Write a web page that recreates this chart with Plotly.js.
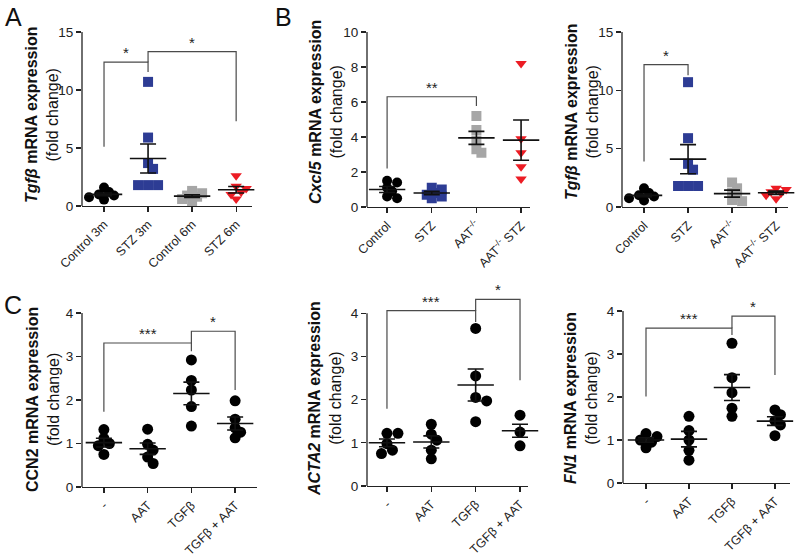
<!DOCTYPE html>
<html><head><meta charset="utf-8">
<script src="https://cdn.plot.ly/plotly-3.0.1.min.js"></script>
<style>html,body{margin:0;padding:0;background:#fff}#chart{width:800px;height:559px}</style>
</head><body><div id="chart"></div>
<script>
// ---------------- DATA ----------------
// Panel A: Tgfb, STZ time course
const catsA = ['Control 3m', 'STZ 3m', 'Control 6m', 'STZ 6m'];
const a_ctrl3m = [0.55, 0.75, 0.9, 1.0, 1.2, 1.6];
const a_stz3m = [10.7, 5.9, 3.7, 3.2, 1.8, 1.8, 1.8];
const a_ctrl6m = [0.4, 0.6, 0.8, 0.9, 1.1, 1.3];
const a_stz6m = [2.6, 1.7, 1.5, 1.2, 1.0, 0.6];
const meanA = [1.0, 4.1, 0.85, 1.4];
const semA = [0.12, 1.25, 0.12, 0.28];

// Panel B (middle): Cxcl5
const catsB = ['Control', 'STZ', 'AAT<sup>-/-</sup>', 'AAT<sup>-/-</sup> STZ'];
const b_ctrl = [1.5, 1.4, 1.1, 0.9, 0.6, 0.5];
const b_stz = [1.1, 1.0, 0.8, 0.7, 0.6, 0.5];
const b_aat = [5.2, 4.4, 3.8, 3.3, 3.1];
const b_aatstz = [8.2, 3.9, 3.1, 2.3, 1.6];
const meanB = [1.0, 0.8, 3.95, 3.82];
const semB = [0.17, 0.1, 0.37, 1.15];

// Panel B (right): Tgfb
const br_ctrl = [0.55, 0.75, 0.9, 1.0, 1.2, 1.6];
const br_stz = [10.7, 5.9, 3.7, 3.2, 1.8, 1.8, 1.8];
const br_aat = [2.1, 1.6, 1.2, 0.9, 0.6, 0.5];
const br_aatstz = [1.6, 1.5, 1.3, 1.2, 1.0, 0.7];
const meanBR = [1.0, 4.1, 1.15, 1.22];
const semBR = [0.12, 1.25, 0.3, 0.14];

// Panel C: in vitro
const catsC = ['-', 'AAT', 'TGFβ', 'TGFβ + AAT'];
const cl_ctrl = [1.32, 1.12, 1.0, 0.95, 0.75];
const cl_aat = [1.33, 0.98, 0.85, 0.69, 0.54];
const cl_tgf = [2.92, 2.45, 2.23, 1.85, 1.4];
const cl_tgfaat = [1.98, 1.56, 1.36, 1.26, 1.13];
const meanCL = [1.02, 0.88, 2.15, 1.46];
const semCL = [0.1, 0.13, 0.26, 0.15];

const cm_ctrl = [1.22, 1.22, 0.98, 0.83, 0.75];
const cm_aat = [1.43, 1.2, 1.06, 0.83, 0.63];
const cm_tgf = [3.65, 2.55, 2.05, 1.97, 1.49];
const cm_tgfaat = [1.64, 1.56, 1.25, 0.93, 0.93];
const meanCM = [1.0, 1.02, 2.34, 1.28];
const semCM = [0.09, 0.14, 0.37, 0.15];

const cr_ctrl = [1.15, 1.08, 1.0, 0.95, 0.82];
const cr_aat = [1.55, 1.22, 1.0, 0.76, 0.53];
const cr_tgf = [3.25, 2.45, 2.1, 1.74, 1.55];
const cr_tgfaat = [1.7, 1.59, 1.45, 1.35, 1.1];
const meanCR = [1.0, 1.02, 2.22, 1.44];
const semCR = [0.05, 0.18, 0.3, 0.1];

// significance brackets: [fromCat, toCat, top, leftBottom, rightBottom, label]
const bracketsA = [[0, 1, 12.4, 5.1, 11.55, '*'], [1, 3, 13.3, 12.4, 7.3, '*']];
const bracketsB = [[0, 2, 6.3, 2.2, 5.77, '**']];
const bracketsBR = [[0, 1, 12.2, 3.9, 11.3, '*']];
const bracketsCL = [[0, 2, 3.31, 1.73, 3.12, '***'], [2, 3, 3.58, 3.31, 2.23, '*']];
const bracketsCM = [[0, 2, 4.06, 1.79, 3.8, '***'], [2, 3, 4.32, 4.06, 2.45, '*']];
const bracketsCR = [[0, 2, 3.6, 2.01, 3.44, '***'], [2, 3, 3.88, 3.6, 2.51, '*']];

// ---------------- STYLE ----------------
const FONT = 'Arial, "Liberation Sans", Helvetica, sans-serif';
const BLACK = '#000000', BLUE = '#2D3C94', GRAY = '#A6A6A6', RED = '#EC1C24';
const W = 800, H = 559;

const panels = [
  {xd: [82, 252], xr: [-0.5, 3.36], yd: [32, 206], yr: [0, 15], top: 15, ticks: [0, 5, 10, 15],
   cats: catsA, groups: [a_ctrl3m, a_stz3m, a_ctrl6m, a_stz6m], mean: meanA, sem: semA,
   symbols: ['circle', 'square', 'square', 'triangle-down'], colors: [BLACK, BLUE, GRAY, RED], ms: 10,
   br: bracketsA, title: '<b><i>Tgfβ</i> mRNA expression</b><br>(fold change)', tx: 42, ty: 115},
  {xd: [367, 530], xr: [-0.45, 3.2], yd: [32, 207], yr: [0, 10], top: 10, ticks: [0, 2, 4, 6, 8, 10],
   cats: catsB, groups: [b_ctrl, b_stz, b_aat, b_aatstz], mean: meanB, sem: semB,
   symbols: ['circle', 'square', 'square', 'triangle-down'], colors: [BLACK, BLUE, GRAY, RED], ms: 10,
   br: bracketsB, title: '<b><i>Cxcl5</i> mRNA expression</b><br>(fold change)', tx: 326, ty: 112},
  {xd: [622, 788], xr: [-0.5, 3.27], yd: [32, 207], yr: [0, 15], top: 15, ticks: [0, 5, 10, 15],
   cats: catsB, groups: [br_ctrl, br_stz, br_aat, br_aatstz], mean: meanBR, sem: semBR,
   symbols: ['circle', 'square', 'square', 'triangle-down'], colors: [BLACK, BLUE, GRAY, RED], ms: 10,
   br: bracketsBR, title: '<b><i>Tgfβ</i> mRNA expression</b><br>(fold change)', tx: 582, ty: 112},
  {xd: [82, 257], xr: [-0.5, 3.5], yd: [313, 487], yr: [0, 4], top: 4, ticks: [0, 1, 2, 3, 4],
   cats: catsC, groups: [cl_ctrl, cl_aat, cl_tgf, cl_tgfaat], mean: meanCL, sem: semCL,
   symbols: ['circle', 'circle', 'circle', 'circle'], colors: [BLACK, BLACK, BLACK, BLACK], ms: 11,
   br: bracketsCL, title: '<b>CCN2 mRNA expression</b><br>(fold change)', tx: 43, ty: 400},
  {xd: [367, 528], xr: [-0.45, 3.18], yd: [296, 486], yr: [0, 4.4], top: 4, ticks: [0, 1, 2, 3, 4],
   cats: catsC, groups: [cm_ctrl, cm_aat, cm_tgf, cm_tgfaat], mean: meanCM, sem: semCM,
   symbols: ['circle', 'circle', 'circle', 'circle'], colors: [BLACK, BLACK, BLACK, BLACK], ms: 11,
   br: bracketsCM, title: '<b><i>ACTA2</i> mRNA expression</b><br>(fold change)', tx: 325, ty: 399},
  {xd: [623, 790], xr: [-0.535, 3.35], yd: [311, 483], yr: [0, 4], top: 4, ticks: [0, 1, 2, 3, 4],
   cats: catsC, groups: [cr_ctrl, cr_aat, cr_tgf, cr_tgfaat], mean: meanCR, sem: semCR,
   symbols: ['circle', 'circle', 'circle', 'circle'], colors: [BLACK, BLACK, BLACK, BLACK], ms: 11,
   br: bracketsCR, title: '<b><i>FN1</i> mRNA expression</b><br>(fold change)', tx: 581, ty: 398}
];

// compact beeswarm: horizontal offsets (category units), markers may overlap partly
function swarm(values, ppu, dpx, pxPerCat) {
  const order = values.map((v, i) => i).sort((a, b) => values[b] - values[a]);
  const placed = [];
  const off = new Array(values.length).fill(0);
  const step = dpx * 0.5, minD = dpx * 0.6;
  for (const i of order) {
    const py = values[i] * ppu;
    let chosen = 0;
    for (let k = 0; k < 30; k++) {
      const cands = k === 0 ? [0] : [k * step, -k * step];
      let ok = null;
      for (const c of cands) {
        if (placed.every(p => Math.hypot(p[0] - c, p[1] - py) >= minD)) { ok = c; break; }
      }
      if (ok !== null) { chosen = ok; break; }
    }
    placed.push([chosen, py]);
    off[i] = chosen / pxPerCat;
  }
  return off;
}

const data = [];
const layout = {
  width: W, height: H, margin: {l: 0, r: 0, t: 0, b: 0},
  paper_bgcolor: '#fff', plot_bgcolor: 'rgba(0,0,0,0)',
  showlegend: false, font: {family: FONT, color: '#222'},
  shapes: [], annotations: []
};

panels.forEach((p, k) => {
  const n = k === 0 ? '' : String(k + 1);
  const xa = 'x' + n, ya = 'y' + n;
  const ppu = (p.yd[1] - p.yd[0]) / (p.yr[1] - p.yr[0]);
  const pxPerCat = (p.xd[1] - p.xd[0]) / (p.xr[1] - p.xr[0]);
  p.groups.forEach((vals, g) => {
    const off = swarm(vals, ppu, p.ms, pxPerCat);
    data.push({
      type: 'scatter', mode: 'markers', xaxis: xa, yaxis: ya, cliponaxis: false,
      x: vals.map((v, i) => g + off[i]), y: vals,
      marker: {symbol: p.symbols[g], size: p.ms, color: p.colors[g], line: {width: 0}},
      hoverinfo: 'y'
    });
  });
  data.push({
    type: 'scatter', mode: 'markers', xaxis: xa, yaxis: ya, cliponaxis: false,
    x: p.mean.map((m, i) => i), y: p.mean,
    marker: {symbol: 'line-ew-open', size: 26, color: '#111', line: {width: 1.6, color: '#111'}},
    error_y: {type: 'data', array: p.sem, visible: true, width: 8, thickness: 1.6, color: '#111'}
  });
  layout['xaxis' + n] = {
    domain: [p.xd[0] / W, p.xd[1] / W], range: p.xr, anchor: ya,
    tickvals: p.cats.map((c, i) => i), ticktext: p.cats, tickangle: -45,
    tickfont: {family: FONT, size: 12.5, color: '#222'},
    showline: true, linecolor: '#222', linewidth: 1.3, ticks: 'outside', ticklen: 5,
    tickwidth: 1.3, tickcolor: '#222', showgrid: false, zeroline: false, fixedrange: true
  };
  layout['yaxis' + n] = {
    domain: [1 - p.yd[1] / H, 1 - p.yd[0] / H], range: p.yr, anchor: xa,
    tickvals: p.ticks, ticktext: p.ticks.map(String),
    tickfont: {family: FONT, size: 13.5, color: '#222'},
    showline: false, ticks: 'outside', ticklen: 5, tickwidth: 1.3, tickcolor: '#222',
    showgrid: false, zeroline: false, fixedrange: true
  };
  // y axis line up to the top tick
  layout.shapes.push({type: 'line', xref: 'paper', yref: ya, x0: p.xd[0] / W, x1: p.xd[0] / W,
    y0: 0, y1: p.top, line: {color: '#222', width: 1.3}});
  // significance brackets
  p.br.forEach(b => {
    layout.shapes.push({type: 'path', xref: xa, yref: ya,
      path: `M ${b[0]},${b[3]} L ${b[0]},${b[2]} L ${b[1]},${b[2]} L ${b[1]},${b[4]}`,
      line: {color: '#4a4a4a', width: 1.2}});
    layout.annotations.push({xref: xa, yref: ya, x: (b[0] + b[1]) / 2, y: b[2],
      xanchor: 'center', yanchor: 'bottom', showarrow: false, text: b[5], yshift: -1,
      font: {family: FONT, size: 15, color: '#222'}});
  });
  layout.annotations.push({xref: 'paper', yref: 'paper', x: p.tx / W, y: 1 - p.ty / H,
    xanchor: 'center', yanchor: 'middle', textangle: -90, showarrow: false, text: p.title,
    font: {family: FONT, size: 16, color: '#111'}});
});

// panel letters
[['A', 13, 17], ['B', 283, 17], ['C', 13, 305]].forEach(l => {
  layout.annotations.push({xref: 'paper', yref: 'paper', x: l[1] / W, y: 1 - l[2] / H,
    xanchor: 'center', yanchor: 'middle', showarrow: false, text: l[0],
    font: {family: FONT, size: 25, color: '#111'}});
});

Plotly.newPlot('chart', data, layout, {staticPlot: true, displayModeBar: false});
</script>
</body></html>
